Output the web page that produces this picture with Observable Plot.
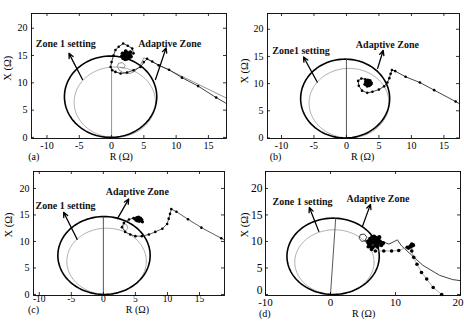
<!DOCTYPE html>
<html><head><meta charset="utf-8">
<script src="https://cdn.jsdelivr.net/npm/d3@7"></script>
<script src="https://cdn.jsdelivr.net/npm/@observablehq/plot@0.6"></script>
<style>
body{margin:0;background:#fff}
#fig{position:relative;width:464px;height:323px;background:#fff;overflow:hidden}
.panel{position:absolute}
.panel svg{overflow:visible}
</style></head><body><div id="fig"></div>
<script>
// ---- ticks & tags ----
const panelTags = ["(a)", "(b)", "(c)", "(d)"];
const xTicksABC = [-10, -5, 0, 5, 10, 15];
const xTicksD = [-10, 0, 10, 20];
const yTicks = [0, 5, 10, 15, 20];
const xAxisTitle = "R (Ω)";
const yAxisTitle = "X (Ω)";

// ---- characteristic circles (centre / radii in ohms) ----
const outerCR = [-0.15, -0.2, 0.1, 0.4];
const outerCX = [7.45, 7.25, 7.35, 7.2];
const outerRR = [7.15, 6.85, 7.2, 7.1];
const outerRX = [7.45, 7.25, 7.35, 7.2];
const innerCR = [0.5, 0.4, 0.5, 0.6];
const innerCX = [6.45, 6.4, 6.25, 6.1];
const innerRR = [6.3, 6.15, 6.2, 6.1];
const innerRX = [6.45, 6.4, 6.25, 6.1];
const reachEndR = [0, 0, 0, 0.8];
const reachEndX = [12.8, 14.5, 14.7, 14.4];

// ---- annotations (ohms) ----
const zoneText = ["Zone 1 setting", "Zone1 setting", "Zone 1 setting", "Zone 1 setting"];
const zoneTextR = [-7.1, -7.0, -5.9, -4.3];
const zoneTextX = [17.1, 16.0, 16.7, 17.5];
const zoneFromR = [-4.5, -4.5, -4.1, -1.8];
const zoneFromX = [10.6, 10.3, 10.4, 11.9];
const zoneToR = [-6.6, -6.6, -6.2, -3.25];
const zoneToX = [15.4, 14.9, 15.5, 16.4];
const adaptText = ["Adaptive Zone", "Adaptive Zone", "Adaptive Zone", "Adaptive Zone"];
const adaptTextR = [9.0, 6.3, 5.3, 7.3];
const adaptTextX = [17.2, 17.2, 19.4, 18.0];
const adaptFromR = [6.8, 4.8, 2.2, 4.9];
const adaptFromX = [10.6, 12.8, 14.3, 12.8];
const adaptToR = [8.45, 5.65, 3.95, 6.15];
const adaptToX = [16.4, 16.1, 18.0, 17.0];

// ---- impedance trajectories (R, X in ohms) ----
// (a)
const aPathR = [17.8, 16.2, 13.4, 10.9, 8.9, 7.3, 6.3, 5.5, 5.0, 4.5, 3.4, 2.4, 1.4, 0.6, 0.1, -0.15, 0.0, 0.3, 0.6, 1.1, 1.8, 2.5, 3.2, 3.4, 2.8, 2.2];
const aPathX = [6.2, 7.3, 9.4, 10.95, 12.4, 13.2, 13.9, 14.4, 13.8, 12.9, 12.3, 11.9, 11.7, 12.0, 12.3, 12.9, 13.8, 15.0, 16.0, 16.6, 17.2, 16.8, 16.3, 15.4, 14.9, 15.0];
const aThinR = [17.8, 5.0, 4.6, 4.2, 3.6, 2.8, 1.9, 1.2, 0.9, 1.1, 1.7, 2.1, 1.9, 1.4];
const aThinX = [7.2, 14.6, 13.6, 12.8, 12.1, 11.7, 11.8, 12.3, 13.0, 13.6, 13.7, 13.2, 12.7, 12.8];
const aClusterR = [1.6, 1.9, 2.2, 2.5, 2.8, 3.0, 1.8, 2.1, 2.4, 2.7, 2.0, 2.3, 2.6, 2.2, 1.7, 2.9];
const aClusterX = [14.9, 15.3, 15.6, 15.5, 15.2, 14.8, 14.5, 14.3, 14.4, 14.6, 15.0, 14.9, 15.0, 15.8, 15.4, 15.6];
// (b)
const bPathR = [17.4, 16.8, 13.5, 11.3, 9.1, 7.5, 7.0, 6.8, 6.6, 6.3, 5.8, 5.0, 4.0, 3.2, 2.4, 1.9, 1.8, 2.3, 2.9, 3.4, 3.3];
const bPathX = [6.3, 6.7, 8.8, 10.2, 11.25, 12.3, 12.5, 11.8, 11.0, 10.2, 9.5, 8.9, 8.5, 8.3, 8.7, 9.6, 10.5, 10.95, 10.8, 10.3, 10.0];
const bClusterR = [3.0, 3.3, 3.6, 3.8, 3.5, 3.2, 2.9, 3.4, 3.7, 3.1];
const bClusterX = [10.4, 10.6, 10.5, 10.1, 9.7, 9.6, 9.9, 10.2, 9.9, 10.1];
// (c)
const cPathR = [18.9, 18.4, 15.3, 13.2, 11.4, 10.6, 10.4, 10.2, 9.95, 9.2, 8.1, 7.1, 6.0, 5.0, 4.2, 3.4, 2.9, 3.2, 4.0, 4.7, 5.3];
const cPathX = [10.3, 10.6, 12.6, 14.2, 15.6, 16.1, 15.2, 14.3, 13.3, 12.4, 11.8, 11.3, 11.0, 11.0, 11.3, 11.8, 12.7, 13.5, 14.15, 14.4, 14.2];
const cLoopR = [3.0, 3.4, 3.8, 3.7, 3.3, 3.0];
const cLoopX = [12.6, 12.0, 12.4, 13.1, 13.3, 12.6];
const cClusterR = [4.9, 5.2, 5.5, 5.8, 6.0, 5.3, 5.6, 5.9, 5.1, 5.4, 5.7, 6.1];
const cClusterX = [14.3, 14.5, 14.6, 14.4, 14.1, 13.9, 13.8, 13.9, 14.0, 14.2, 14.1, 13.7];
// (d)
const dThinR = [20.0, 18.8, 16.8, 14.2, 12.5, 10.9, 10.3, 9.0, 7.7, 6.6, 5.6, 4.8, 4.4, 4.6, 5.2, 5.6, 5.3, 6.0];
const dThinX = [2.6, 2.8, 3.6, 5.5, 7.4, 9.2, 10.3, 9.5, 10.1, 10.2, 10.2, 10.0, 10.6, 11.3, 11.4, 10.8, 10.2, 9.0];
const dPathR = [5.8, 6.3, 6.9, 8.2, 9.4, 10.5, 11.8, 12.3, 12.5, 12.6, 12.5, 12.8, 13.3, 14.0, 14.8, 15.8, 17.1];
const dPathX = [9.0, 8.5, 8.2, 8.2, 8.2, 8.3, 8.9, 9.2, 9.5, 9.2, 8.2, 7.0, 5.7, 4.15, 2.9, 1.3, 0.0];
const dClusterR = [5.8, 6.1, 6.4, 6.7, 7.0, 7.3, 7.6, 7.9, 6.2, 6.6, 7.0, 7.4, 7.8, 6.0, 6.5, 6.9, 7.2, 6.3, 6.8, 7.5, 8.1, 5.9, 12.0, 12.3, 12.7];
const dClusterX = [10.0, 10.5, 10.8, 10.9, 10.7, 10.4, 10.0, 9.6, 9.5, 9.8, 10.1, 9.7, 9.3, 9.1, 8.9, 9.3, 9.0, 10.2, 10.5, 10.8, 9.7, 9.6, 8.8, 9.0, 9.3];

const zip = (R, X) => R.map((r, i) => ({r, x: X[i]}));
const ellipse = (cr, cx, rr, rx) => d3.range(0, 361, 3).map(a => ({r: cr + rr * Math.cos(a * Math.PI / 180), x: cx + rx * Math.sin(a * Math.PI / 180)}));

const layout = [
  {left:0, top:0, width:232, height:162, mt:13, mr:6, mb:24, ml:31, xd:[-12.4,17.8], yd:[-0.2,22.7], xticks:xTicksABC, xfs:10, yfs:10, xpad:3, ypad:4, labR:1.5, labDy:21, tagR:-12.05, tagDy:21, labFs:10, ylab:10.4, ylabDx:-24, zeroDy:0, lastDx:0},
  {left:232, top:0, width:232, height:162, mt:13, mr:5, mb:24, ml:35, xd:[-12.15,17.4], yd:[-0.1,22.9], xticks:xTicksABC, xfs:10, yfs:10, xpad:3, ypad:4, labR:2.5, labDy:21, tagR:-10.9, tagDy:21, labFs:10, ylab:10.0, ylabDx:-23, zeroDy:0, lastDx:0},
  {left:0, top:162, width:232, height:161, mt:9, mr:8, mb:28, ml:33, xd:[-10.9,18.9], yd:[-0.2,23.2], xticks:xTicksABC, xfs:9.5, yfs:10, xpad:0, ypad:4, labR:5.3, labDy:17.5, tagR:-10.9, tagDy:17.5, labFs:10, ylab:10.75, ylabDx:-25, zeroDy:0, lastDx:0},
  {left:232, top:162, width:232, height:161, mt:9, mr:4, mb:28, ml:33, xd:[-10,20], yd:[-0.2,23.2], xticks:xTicksD, xfs:11, yfs:11.5, xpad:3, ypad:3, labR:5.1, labDy:21.5, tagR:-10.1, tagDy:21.5, labFs:10, ylab:10.75, ylabDx:-21, zeroDy:-4, lastDx:-2.5}
];

function trajectoryMarks(i) {
  const m = [];
  const dotR = i === 3 ? 1.8 : 1.3;
  if (i === 0) {
    m.push(Plot.line(zip(aThinR, aThinX), {x:"r", y:"x", stroke:"#666", strokeWidth:0.7}));
    m.push(Plot.line(zip(aPathR, aPathX), {x:"r", y:"x", stroke:"#111", strokeWidth:0.8}));
    m.push(Plot.dot(zip(aPathR, aPathX).slice(1), {x:"r", y:"x", r:dotR, fill:"#000"}));
    m.push(Plot.dot(zip(aClusterR, aClusterX), {x:"r", y:"x", r:1.9, fill:"#000"}));
  } else if (i === 1) {
    m.push(Plot.line(zip(bPathR, bPathX), {x:"r", y:"x", stroke:"#111", strokeWidth:0.8}));
    m.push(Plot.dot(zip(bPathR, bPathX).slice(1), {x:"r", y:"x", r:dotR, fill:"#000"}));
    m.push(Plot.dot(zip(bClusterR, bClusterX), {x:"r", y:"x", r:1.9, fill:"#000"}));
  } else if (i === 2) {
    m.push(Plot.line(zip(cLoopR, cLoopX), {x:"r", y:"x", stroke:"#777", strokeWidth:0.6}));
    m.push(Plot.line(zip(cPathR, cPathX), {x:"r", y:"x", stroke:"#333", strokeWidth:0.8}));
    m.push(Plot.dot(zip(cPathR, cPathX).slice(1), {x:"r", y:"x", r:dotR, fill:"#000"}));
    m.push(Plot.dot(zip(cClusterR, cClusterX), {x:"r", y:"x", r:1.6, fill:"#000"}));
  } else {
    m.push(Plot.line(zip(dThinR, dThinX), {x:"r", y:"x", stroke:"#111", strokeWidth:0.8}));
    m.push(Plot.line(zip(dPathR, dPathX), {x:"r", y:"x", stroke:"#999", strokeWidth:0.8}));
    m.push(Plot.dot(zip(dPathR, dPathX), {x:"r", y:"x", r:dotR, fill:"#000"}));
    m.push(Plot.dot(zip(dClusterR, dClusterX), {x:"r", y:"x", r:2.1, fill:"#000"}));
  }
  return m;
}

const fig = document.getElementById("fig");
layout.forEach((L, i) => {
  const ph = L.height - L.mt - L.mb;
  const pw = L.width - L.ml - L.mr;
  const fmt = d => String(d);
  const lastTick = L.xticks[L.xticks.length - 1];
  const chart = Plot.plot({
    width: L.width, height: L.height,
    marginTop: L.mt, marginRight: L.mr, marginBottom: L.mb, marginLeft: L.ml,
    style: {fontFamily: "'Liberation Serif', 'Times New Roman', serif", color: "#000", background: "transparent", overflow: "visible"},
    x: {domain: L.xd, label: null},
    y: {domain: L.yd, label: null},
    marks: [
      Plot.line(ellipse(innerCR[i], innerCX[i], innerRR[i], innerRX[i]), {x:"r", y:"x", stroke:"#9a9a9a", strokeWidth:0.8}),
      Plot.line(ellipse(outerCR[i], outerCX[i], outerRR[i], outerRX[i]), {x:"r", y:"x", stroke:"#000", strokeWidth:1.6}),
      Plot.link([{r1:0, x1:0, r2:reachEndR[i], x2:reachEndX[i]}], {x1:"r1", y1:"x1", x2:"r2", y2:"x2", stroke: i === 0 ? "#888" : "#444", strokeWidth:0.9}),
      ...trajectoryMarks(i),
      Plot.arrow([{x1: zoneFromR[i], y1: zoneFromX[i], x2: zoneToR[i], y2: zoneToX[i]}], {x1:"x1", y1:"y1", x2:"x2", y2:"y2", stroke:"#000", strokeWidth:1.3, headLength:6, headAngle:50}),
      Plot.arrow([{x1: adaptFromR[i], y1: adaptFromX[i], x2: adaptToR[i], y2: adaptToX[i]}], {x1:"x1", y1:"y1", x2:"x2", y2:"y2", stroke:"#000", strokeWidth:1.3, headLength:6, headAngle:50}),
      Plot.text([{r: zoneTextR[i], x: zoneTextX[i], t: zoneText[i]}], {x:"r", y:"x", text:"t", fontSize:10, fontWeight:"bold", fill:"#111"}),
      Plot.text([{r: adaptTextR[i], x: adaptTextX[i], t: adaptText[i]}], {x:"r", y:"x", text:"t", fontSize:10, fontWeight:"bold", fill:"#111"}),
      Plot.frame({stroke:"#000", strokeWidth:0.9}),
      Plot.tickX(L.xticks, {x: d => d, insetTop: ph - 3, stroke:"#000", strokeWidth:0.8}),
      Plot.tickX(L.xticks, {x: d => d, insetBottom: ph - 3, stroke:"#000", strokeWidth:0.8}),
      Plot.tickY(yTicks, {y: d => d, insetRight: pw - 3, stroke:"#000", strokeWidth:0.8}),
      Plot.tickY(yTicks, {y: d => d, insetLeft: pw - 3, stroke:"#000", strokeWidth:0.8}),
      Plot.axisX(L.xticks.filter(t => t !== lastTick), {anchor:"bottom", tickSize:0, tickPadding:L.xpad, tickFormat: fmt, fontSize:L.xfs, label:null}),
      Plot.axisX([lastTick], {anchor:"bottom", tickSize:0, tickPadding:L.xpad, tickFormat: fmt, fontSize:L.xfs, label:null, dx:L.lastDx}),
      Plot.axisY(yTicks.filter(t => t !== 0), {anchor:"left", tickSize:0, tickPadding:L.ypad, tickFormat: fmt, fontSize:L.yfs, label:null}),
      Plot.axisY(yTicks.filter(t => t === 0), {anchor:"left", tickSize:0, tickPadding:L.ypad, tickFormat: fmt, fontSize:L.yfs, label:null, dy:L.zeroDy}),
      Plot.text([xAxisTitle], {x: () => L.labR, frameAnchor:"bottom", dy: L.labDy, fontSize:L.labFs, fill:"#000"}),
      Plot.text([panelTags[i]], {x: () => L.tagR, frameAnchor:"bottom", dy: L.tagDy, fontSize:L.labFs, fill:"#000"}),
      Plot.text([yAxisTitle], {y: () => L.ylab, frameAnchor:"left", dx: L.ylabDx, rotate:-90, fontSize:10.5, fill:"#000"})
    ]
  });
  const div = document.createElement("div");
  div.className = "panel";
  div.style.left = L.left + "px";
  div.style.top = L.top + "px";
  div.appendChild(chart);
  fig.appendChild(div);
});
</script>
</body></html>
